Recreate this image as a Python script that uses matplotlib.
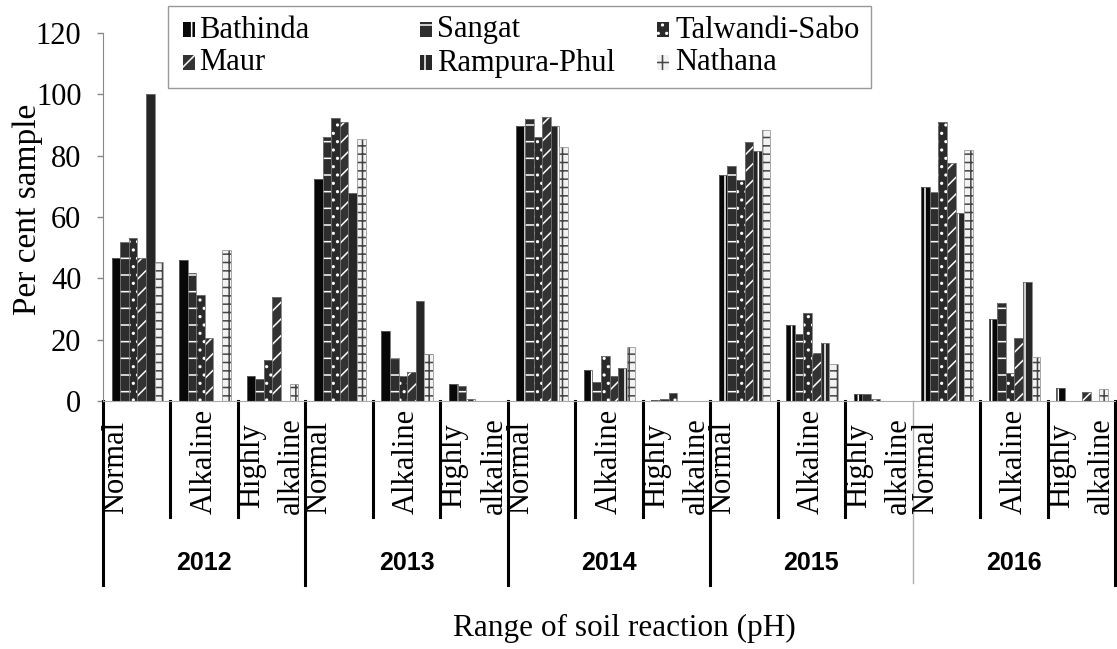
import matplotlib
matplotlib.use('Agg')
import matplotlib.pyplot as plt
from matplotlib.patches import Rectangle
import numpy as np

plt.rcParams['font.family'] = ['Liberation Serif', 'DejaVu Serif']
plt.rcParams['hatch.linewidth'] = 1.1

# data (per cent samples)
years = ['2012', '2013', '2014', '2015', '2016']
classes = ['Normal', 'Alkaline', 'Highly\nalkaline']
sites = ['Bathinda', 'Sangat', 'Talwandi-Sabo', 'Maur', 'Rampura-Phul', 'Nathana']

bathinda = [46.7, 46.0, 8.1, 72.4, 22.9, 5.5, 89.8, 10.1, 0.4, 73.7, 24.8, 2.3, 69.7, 26.7, 4.1]
sangat = [51.7, 41.6, 7.3, 86.0, 14.1, 5.0, 91.8, 6.2, 0.8, 76.7, 22.0, 2.2, 68.3, 31.8, 0.0]
talwandi = [53.0, 34.5, 13.4, 92.4, 8.1, 0.5, 86.0, 14.7, 2.6, 72.0, 28.6, 0.5, 91.0, 9.2, 0.0]
maur = [46.7, 20.4, 33.8, 91.0, 9.5, 0.0, 92.5, 8.1, 0.0, 84.5, 15.8, 0.0, 77.5, 20.4, 2.8]
rampura = [100.0, 0.0, 0.0, 67.9, 32.7, 0.0, 89.8, 10.6, 0.0, 81.5, 18.8, 0.0, 61.4, 38.9, 0.0]
nathana = [45.4, 49.2, 5.5, 85.3, 15.2, 0.0, 82.9, 17.7, 0.0, 88.4, 12.0, 0.0, 82.0, 14.4, 3.8]

values = [bathinda, sangat, talwandi, maur, rampura, nathana]

# (face, hatch colour, hatch, outline)
styles = [
    ('#080808', 'white', '|', '#666666'),
    ('#2e2e2e', 'white', '-', '#777777'),
    ('#2a2a2a', 'white', '..', '#777777'),
    ('#333333', 'white', '//', '#777777'),
    ('#262626', 'white', '|', '#777777'),
    ('#f2f2f2', '#444444', '++', '#999999'),
]

W, H = 1117, 649
fig = plt.figure(figsize=(W / 100, H / 100), dpi=100)
ax = fig.add_axes([103 / W, 1 - 401 / H, 1012 / W, 368 / H])

n = len(bathinda)
x = np.arange(n) + 0.51
bw = 0.1275
for j, (vals, st) in enumerate(zip(values, styles)):
    face, hc, hatch, edge = st
    xs = x + (j - 2.5) * bw
    ax.bar(xs, vals, bw, color=face, edgecolor=hc, hatch=hatch, linewidth=0)
    ax.bar(xs, vals, bw, fill=False, edgecolor=edge, linewidth=0.6)

ax.set_xlim(0, n)
ax.set_ylim(0, 120)
ax.set_yticks(range(0, 121, 20))
ax.set_xticks([])
ax.tick_params(axis='y', direction='out', length=4.5, width=1, color='#888888',
               labelsize=22, pad=11)
for s in ['top', 'right']:
    ax.spines[s].set_visible(False)
ax.spines['left'].set_color('#888888')
ax.spines['bottom'].set_color('#aaaaaa')

# multi-level category axis
tr = ax.get_xaxis_transform()
for b in range(n + 1):
    if b % 3 == 0:
        if b == 12:
            ax.plot([b, b], [0, -0.495], transform=tr, color='#b0b0b0', lw=1, clip_on=False)
        else:
            ax.plot([b, b], [0, -0.5], transform=tr, color='black', lw=2.2, clip_on=False)
    else:
        ax.plot([b, b], [0, -0.315], transform=tr, color='black', lw=2.2, clip_on=False)

for k in range(n):
    c = classes[k % 3]
    xoff = 0.19 if k % 3 == 0 else 0.5
    ax.text(k + xoff, -0.308, c, transform=tr, rotation=90, ha='center', va='bottom',
            fontsize=22, linespacing=1.5)

for i, yr in enumerate(years):
    ax.text(i * 3 + 1.5, -0.44, yr, transform=tr, ha='center', va='center',
            fontsize=18, fontweight='bold', family=['Liberation Sans', 'DejaVu Sans'])

fig.text(28 / W, 1 - 209 / H, 'Per cent sample', rotation=90, ha='center', va='center', fontsize=24)
fig.text(624 / W, 1 - 628 / H, 'Range of soil reaction (pH)', ha='center', va='center', fontsize=22.5)

# legend box drawn by hand to match the column spacing
def fx(px):
    return px / W

def fy(py):
    return 1 - py / H

fig.add_artist(Rectangle((fx(168), fy(88)), fx(871) - fx(168), fy(6) - fy(88),
                         transform=fig.transFigure, fill=False, edgecolor='#999999', lw=1))
col_h = [183, 420, 657]
col_t = [199, 437, 675]
row_y = [30, 63]
for j, name in enumerate(sites):
    r, c = divmod(j, 3)
    face, hc, hatch, edge = styles[j]
    yc = row_y[r]
    fig.add_artist(Rectangle((fx(col_h[c]), fy(yc + 7)), fx(12), 15 / H, transform=fig.transFigure,
                             facecolor=face, edgecolor=hc, hatch=hatch, lw=0))
    fig.text(fx(col_t[c]), fy(yc), name, ha='left', va='center', fontsize=22)

fig.savefig('out.png', dpi=100)
